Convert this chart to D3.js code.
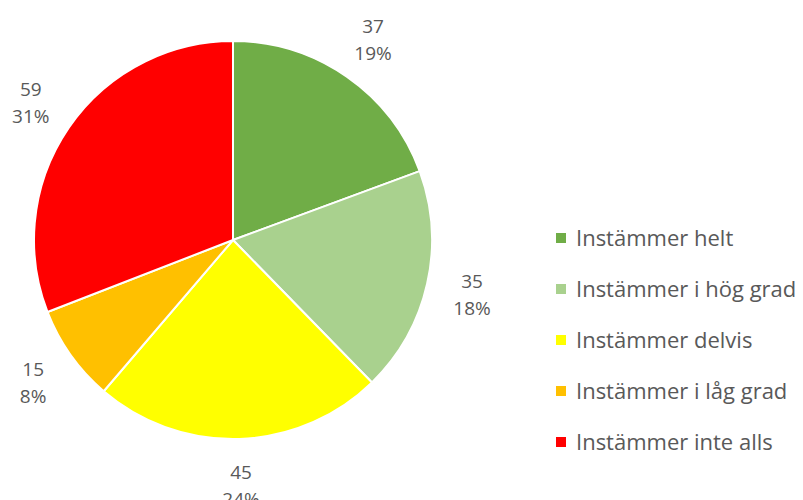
<!DOCTYPE html>
<html><head><meta charset="utf-8">
<script src="https://cdn.jsdelivr.net/npm/d3@7"></script>
<style>body{margin:0;background:#fff}</style>
</head><body>
<svg id="c" width="803" height="500"></svg>
<script>
const categories = ["Instämmer helt","Instämmer i hög grad","Instämmer delvis","Instämmer i låg grad","Instämmer inte alls"];
const values = [37, 35, 45, 15, 59];
const percentLabels = ["19%","18%","24%","8%","31%"];
const colors = ["#70AD47","#A9D18E","#FFFF00","#FFC000","#FF0000"];

const svg = d3.select("#c");
const cx = 233, cy = 240, r = 199, labelR = 245;
const pie = d3.pie().sort(null).value(d => d)(values);
const arc = d3.arc().innerRadius(0).outerRadius(r);
const labelArc = d3.arc().innerRadius(labelR).outerRadius(labelR);
const g = svg.append("g").attr("transform", `translate(${cx},${cy})`);
g.selectAll("path").data(pie).enter().append("path")
  .attr("d", arc).attr("fill", (d,i) => colors[i])
  .attr("stroke", "#fff").attr("stroke-width", 2).attr("stroke-linejoin","round");
const lab = g.selectAll("g.lab").data(pie).enter().append("g")
  .attr("transform", d => `translate(${labelArc.centroid(d)})`);
lab.append("text").attr("text-anchor","middle").attr("y", -6)
  .attr("font-family","Open Sans, sans-serif").attr("font-size",19).attr("fill","#595959")
  .text((d,i) => values[i]);
lab.append("text").attr("text-anchor","middle").attr("y", 21)
  .attr("font-family","Open Sans, sans-serif").attr("font-size",19).attr("fill","#595959")
  .text((d,i) => percentLabels[i]);

const ly = d3.scalePoint().domain(categories).range([238, 442]);
const leg = svg.append("g").selectAll("g").data(categories).enter().append("g")
  .attr("transform", d => `translate(556,${ly(d)})`);
leg.append("rect").attr("x",0).attr("y",-5).attr("width",10).attr("height",10)
  .attr("fill", (d,i) => colors[i]);
leg.append("text").attr("x", 20).attr("y", 8)
  .attr("font-family","Open Sans, sans-serif").attr("font-size",22).attr("fill","#595959")
  .text(d => d);
</script>
</body></html>
